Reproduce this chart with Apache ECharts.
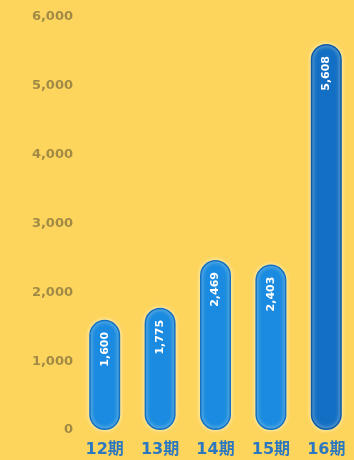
<!DOCTYPE html>
<html>
<head>
<meta charset="utf-8">
<style>
  html, body { margin: 0; padding: 0; background: #fdd45c; }
  #chart { width: 354px; height: 460px; }
</style>
<script src="https://cdn.jsdelivr.net/npm/echarts@6/dist/echarts.min.js"></script>
</head>
<body>
<div id="chart"></div>
<script>
// Periods and totals per period
const periods = ['12期', '13期', '14期', '15期', '16期'];
const totals = [1600, 1775, 2469, 2403, 5608];
const yTicks = [0, 1000, 2000, 3000, 4000, 5000, 6000];

const fmt = v => v.toLocaleString('en-US');

const barColor = '#1a8be0';
const barEdge = '#1570c0';
const lastColor = '#136fc4';
const lastEdge = '#0f5aa6';

const chart = echarts.init(document.getElementById('chart'));
chart.setOption({
  backgroundColor: '#fdd45c',
  animation: false,
  grid: { left: 77, top: 17, width: 283, bottom: 30 },
  xAxis: {
    type: 'category',
    data: periods,
    axisLine: { show: false },
    axisTick: { show: false },
    axisLabel: {
      color: '#2c78c0',
      fontFamily: 'DejaVu Sans, Noto Sans CJK JP',
      fontWeight: 'bold',
      fontSize: 16,
      margin: 12
    }
  },
  yAxis: {
    type: 'value',
    min: yTicks[0],
    max: yTicks[yTicks.length - 1],
    interval: 1000,
    axisLine: { show: false },
    axisTick: { show: false },
    splitLine: { show: false },
    axisLabel: {
      color: '#a08a45',
      fontFamily: 'DejaVu Sans',
      fontWeight: 'bold',
      fontSize: 13,
      margin: 4,
      formatter: v => fmt(v)
    }
  },
  series: [{
    type: 'bar',
    data: totals.map((v, i) => ({
      value: v,
      itemStyle: i === totals.length - 1
        ? { color: lastColor, borderColor: lastEdge }
        : { color: barColor, borderColor: barEdge }
    })),
    barWidth: 31,
    itemStyle: {
      borderRadius: 16,
      borderWidth: 1.5,
      shadowColor: 'rgba(255,255,230,0.8)',
      shadowBlur: 4
    },
    label: {
      show: true,
      position: 'insideTop',
      rotate: 90,
      align: 'right',
      verticalAlign: 'middle',
      distance: 12,
      color: '#ffffff',
      fontFamily: 'DejaVu Sans',
      fontWeight: 'bold',
      fontSize: 11,
      formatter: p => fmt(p.value)
    }
  }]
});
</script>
</body>
</html>
